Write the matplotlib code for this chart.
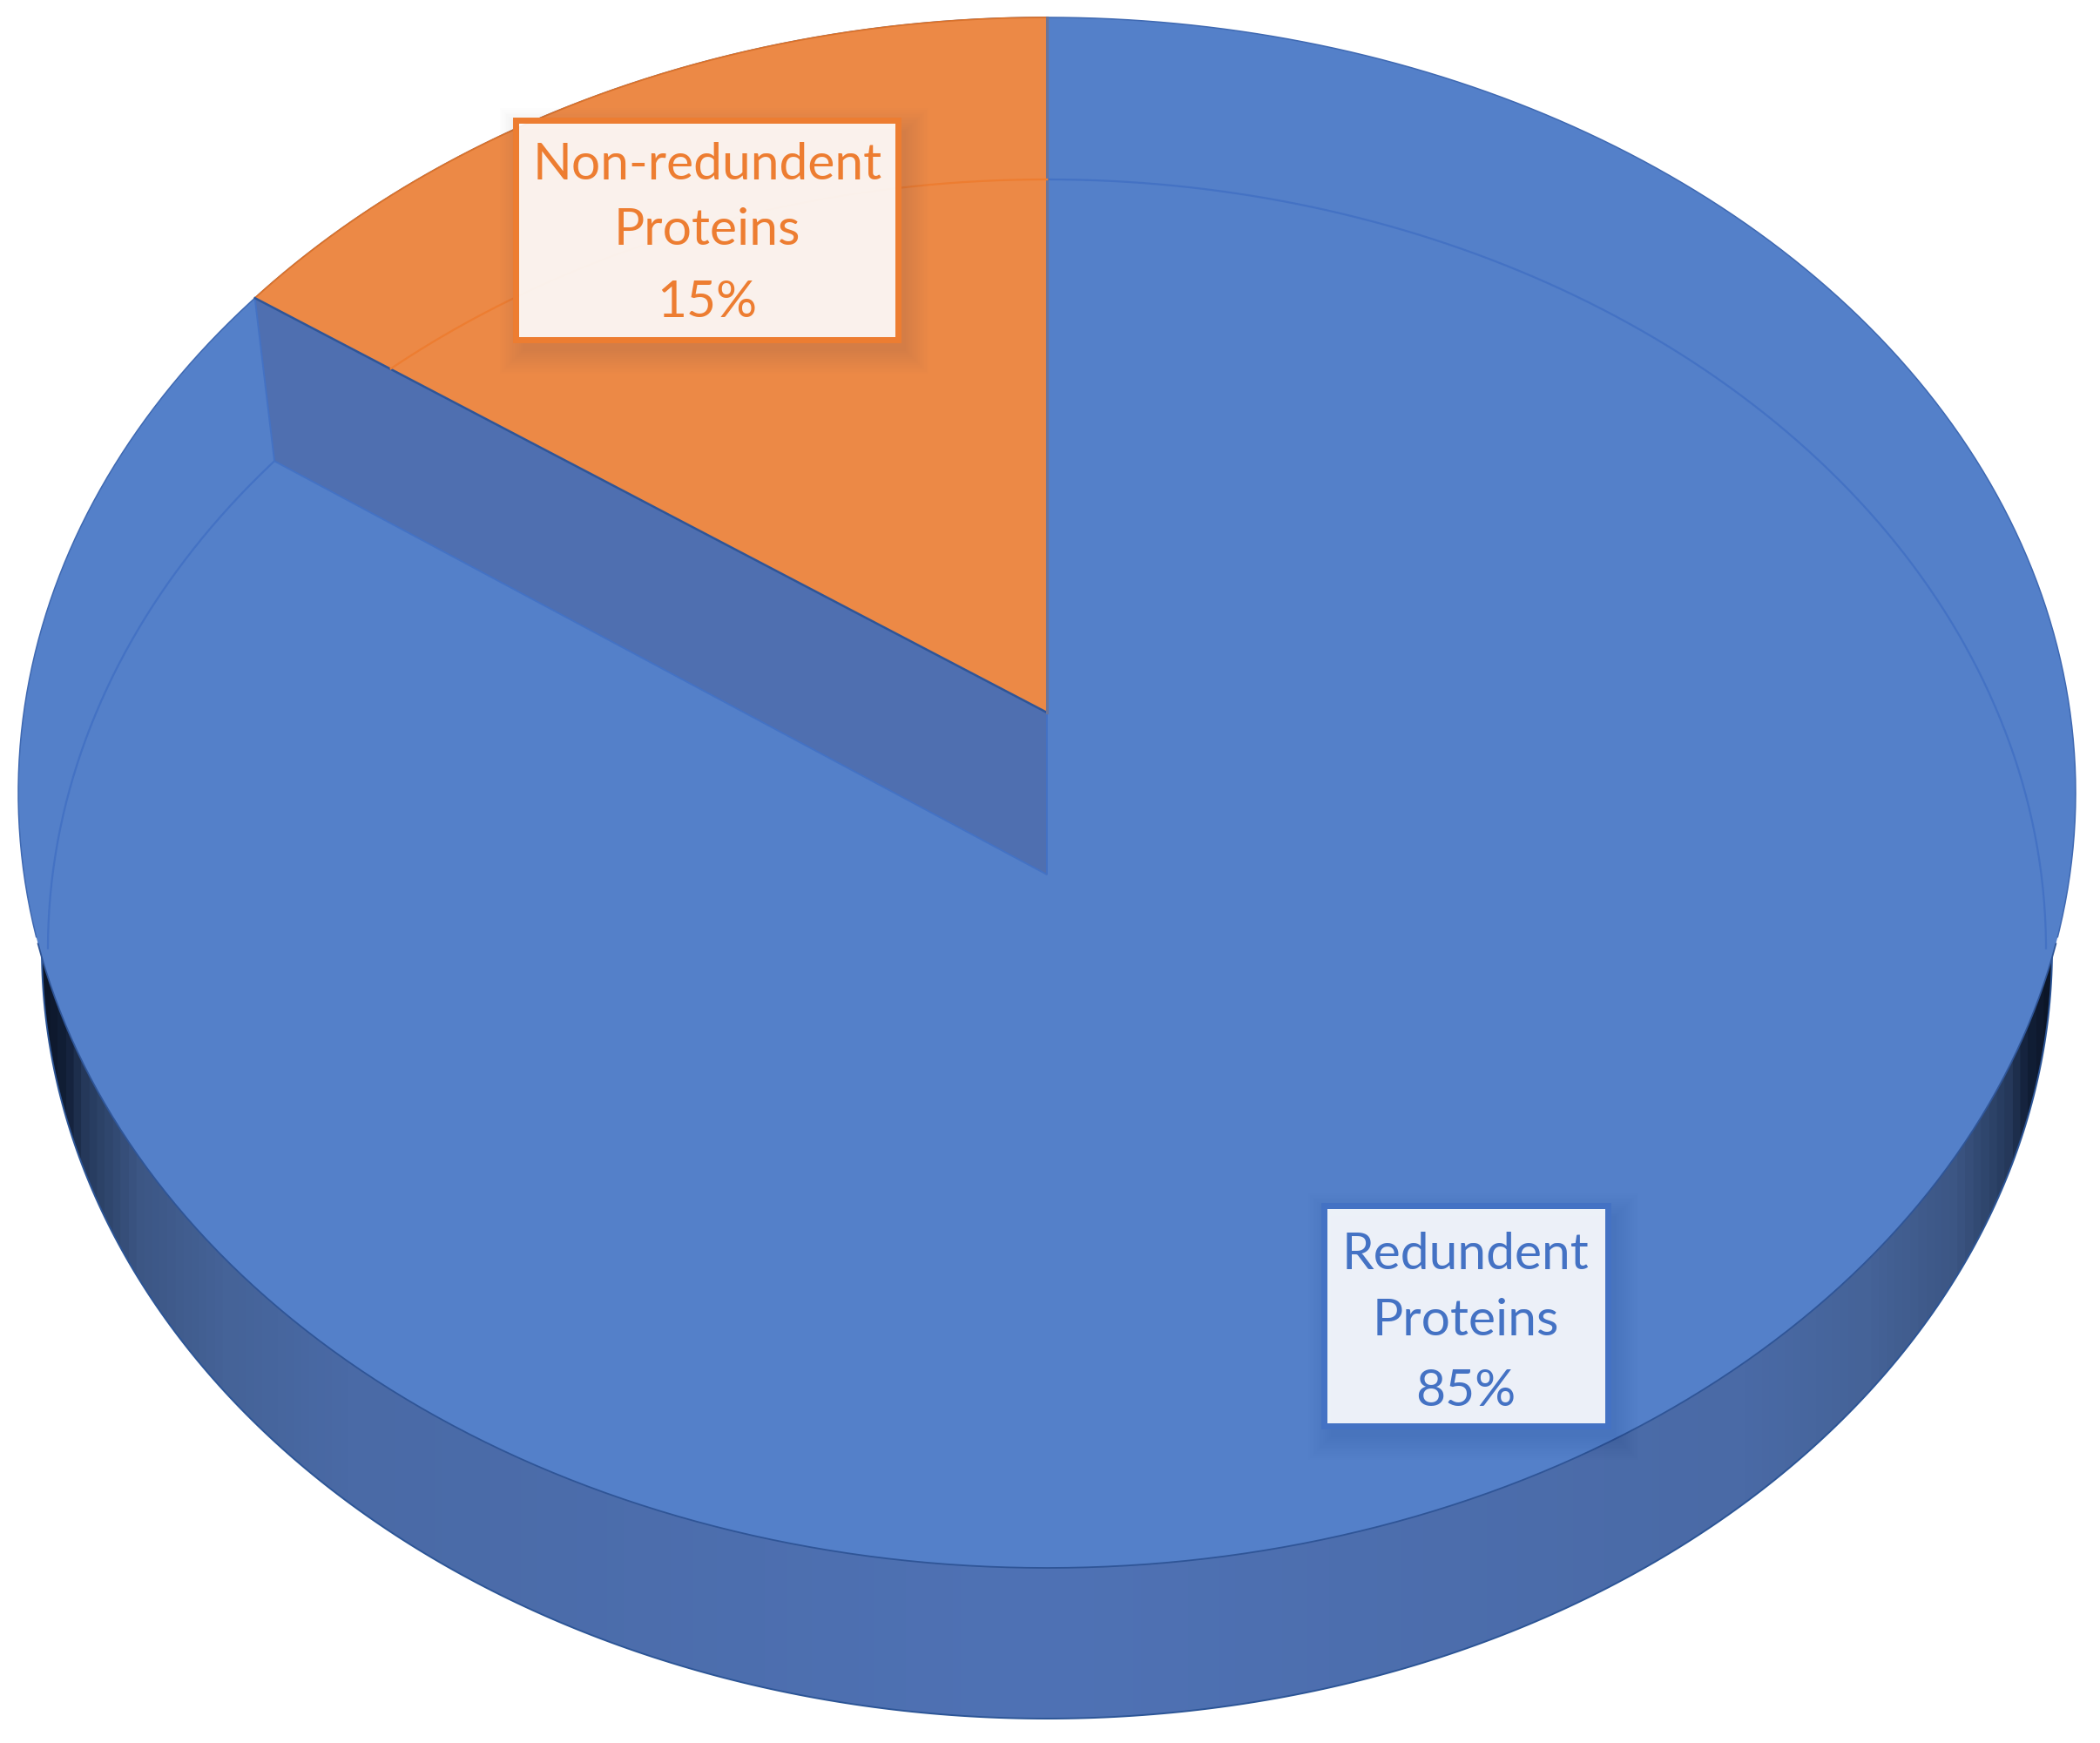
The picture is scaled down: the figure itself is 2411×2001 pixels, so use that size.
import numpy as np
import matplotlib
matplotlib.use("Agg")
import matplotlib.pyplot as plt
from matplotlib.colors import LinearSegmentedColormap
from matplotlib.patches import PathPatch, Polygon, Rectangle
from matplotlib.path import Path

# data
categories = ["Redundent\nProteins", "Non-redundent\nProteins"]
values = [84.7, 15.3]
value_labels = ["85%", "15%"]

# style
W, H = 2411, 2001
BLUE = "#5480c9"
BLUE_WALL = "#4f6fb0"
ORANGE = "#ec8946"
LINE_BLUE = "#4472c4"
LINE_ORANGE = "#ed7d31"
EDGE = "#2f5597"

plt.rcParams["font.family"] = ["Lato", "DejaVu Sans"]
fig = plt.figure(figsize=(W / 100, H / 100), dpi=100)
ax = fig.add_axes([0, 0, 1, 1])
ax.set_xlim(0, W)
ax.set_ylim(H, 0)
ax.axis("off")


def make_disc(cx, cy, up, down, half_width):
    """Perspective projection of a unit circle; angle is clockwise from the top."""
    k = (down - up) / (down + up)
    b = up * (1 + k)
    a = half_width * np.sqrt(1 - k ** 2)

    def project(angle):
        u, v = np.sin(angle), np.cos(angle)
        d = 1 + k * v
        return np.column_stack([cx + a * u / d, cy - b * v / d])

    return project


top = make_disc(1202, 818, 798, 982, 1181)
floor = make_disc(1202, 1004, 798, 969, 1147)
wall = make_disc(1202, 1004, 798, 969, 1154)

orange_angle = values[1] / sum(values) * 2 * np.pi
full = np.linspace(0, 2 * np.pi, 721)
slice_angles = np.linspace(-orange_angle, 0, 200)

# side wall: horizontal shading clipped to the lower disc
floor_pts = floor(full)
wall_pts = wall(full)
wall_cmap = LinearSegmentedColormap.from_list(
    "wall",
    [(0.00, "#0c1628"), (0.010, "#121f38"), (0.020, "#263a5c"), (0.046, "#3c5684"),
     (0.09, "#456398"), (0.15, "#4a6aa6"), (0.50, "#4f72b5"), (0.85, "#4a6aa6"),
     (0.91, "#456398"), (0.954, "#3c5684"), (0.980, "#263a5c"), (0.990, "#121f38"),
     (1.00, "#0c1628")],
)
xmin, xmax = wall_pts[:, 0].min(), wall_pts[:, 0].max()
img = ax.imshow(np.linspace(0, 1, 2400)[None, :], cmap=wall_cmap, aspect="auto",
                extent=[xmin, xmax, wall_pts[:, 1].max(), wall_pts[:, 1].min()],
                zorder=1)
img.set_clip_path(PathPatch(Path(wall_pts), transform=ax.transData))
ax.set_xlim(0, W)
ax.set_ylim(H, 0)
ax.add_patch(Polygon(wall_pts, closed=True, fill=False, ec="#2c5596", lw=1.4, zorder=1.5))

# top surface
top_pts = top(full)
ax.add_patch(Polygon(top_pts, closed=True, fc=BLUE, ec="none", zorder=2))
upper = top_pts.copy()
upper[top_pts[:, 1] > 1080] = np.nan
lower = top_pts.copy()
lower[top_pts[:, 1] <= 1080] = np.nan
ax.plot(upper[:, 0], upper[:, 1], color="#3f69b2", lw=1.1, zorder=2.1)
ax.plot(lower[:, 0], lower[:, 1], color=EDGE, lw=1.3, zorder=2.1)

# the line of the lower disc seen across the surface
arc = floor_pts.copy()
arc[floor_pts[:, 1] >= 1090] = np.nan
ax.plot(arc[:, 0], arc[:, 1], color=LINE_BLUE, lw=1.6, zorder=2.2)

# inner wall of the cut-out slice
top_corner, top_tip = top(np.array([-orange_angle]))[0], np.array([1202, 818])
floor_corner, floor_tip = floor(np.array([-orange_angle]))[0], np.array([1202, 1004])
ax.add_patch(Polygon([top_corner, top_tip, floor_tip, floor_corner], closed=True,
                     fc=BLUE_WALL, ec=LINE_BLUE, lw=1.4, zorder=2.4))

# orange slice
wedge = np.vstack([top_tip, top(slice_angles)])
ax.add_patch(Polygon(wedge, closed=True, fc=ORANGE, ec="none", zorder=3))
ax.plot(*top(slice_angles).T, color="#d9722c", lw=1.3, zorder=3.1)
ax.plot([top_corner[0], top_tip[0]], [top_corner[1], top_tip[1]], color=EDGE, lw=1.8, zorder=3.1)
ax.plot([1202, 1202], [top(np.array([0.0]))[0, 1], 818], color="#6d7496", lw=2.2, zorder=3.1)

# lower-disc line visible on the orange slice
on_orange = floor(slice_angles)
slant = top_corner[1] + (on_orange[:, 0] - top_corner[0]) * (818 - top_corner[1]) / (1202 - top_corner[0])
on_orange[slant <= on_orange[:, 1]] = np.nan
ax.plot(on_orange[:, 0], on_orange[:, 1], color=LINE_ORANGE, lw=1.6, zorder=3.2)


def label(box, centre_x, baselines, lines, colour):
    x0, y0, x1, y1 = box
    for i in range(12):
        pad = 30 - i * 2.4
        ax.add_patch(Rectangle((x0 - pad + 8, y0 - pad + 12), x1 - x0 + 2 * pad, y1 - y0 + 2 * pad,
                               fc="#2a3a5a", ec="none", alpha=0.006, zorder=4))
    ax.add_patch(Rectangle((x0, y0), x1 - x0, y1 - y0, fc="white", ec="none", alpha=0.9, zorder=5))
    ax.add_patch(Rectangle((x0 - 3.5, y0 - 3.5), x1 - x0 + 7, y1 - y0 + 7, fc="none", ec=colour, lw=5.0,
                           zorder=5.1, joinstyle="miter"))
    for line, base in zip(lines, baselines):
        ax.text(centre_x, base, line, color=colour, fontsize=42.3, ha="center", va="baseline", zorder=6)


label((596, 142, 1028, 387), 812, [206, 281, 364],
      categories[1].split("\n") + [value_labels[1]], LINE_ORANGE)
label((1524, 1388, 1843, 1634), 1683, [1457, 1533, 1614],
      categories[0].split("\n") + [value_labels[0]], LINE_BLUE)

fig.savefig("out.png", dpi=100, facecolor="white")
